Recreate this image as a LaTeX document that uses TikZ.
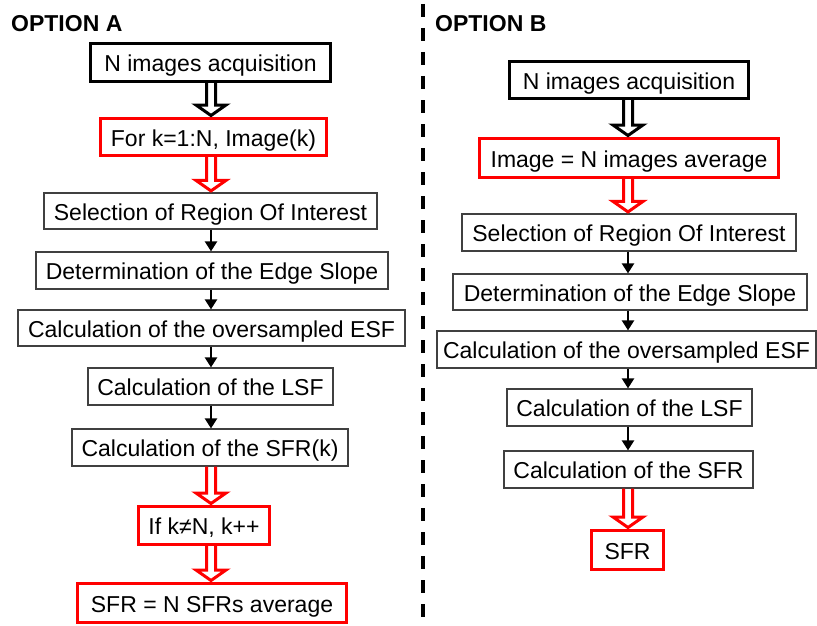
\documentclass[tikz,border=0pt]{standalone}
\usepackage{fontspec}
\setmainfont{Liberation Sans}
\usetikzlibrary{calc,arrows.meta}
\newcommand\HollowArr[4]{%
  \draw[#1, line width=3pt, line join=miter, miter limit=10]
    let \p1=(#2.south), \p2=(#3.north), \p3=(#4) in
    (\x3-4.5pt,\y1) -- (\x3-4.5pt,\y2+12pt) -- (\x3-15pt,\y2+12pt) -- (\x3,\y2+1.5pt)
    -- (\x3+15pt,\y2+12pt) -- (\x3+4.5pt,\y2+12pt) -- (\x3+4.5pt,\y1);}
\begin{document}
\begin{tikzpicture}[x=1pt,y=-1pt,
  every node/.style={font=\fontsize{23}{27}\selectfont, inner sep=0pt,
    text height=18.5pt, text depth=0pt, align=center},
  thinbox/.style={draw=black!75, line width=1.2pt},
  blackbox/.style={draw=black, line width=3pt},
  redbox/.style={draw=red, line width=3pt},
  smallarr/.style={line width=2.3pt, -{Triangle[width=12pt,length=10pt]}},
  title/.style={anchor=base west, font=\fontsize{23}{27}\selectfont\bfseries}]
\useasboundingbox (0,0) rectangle (817,626);

% column guides
\coordinate (colA) at (211,0);
\coordinate (colB) at (628,0);

% separator
\coordinate (dtop) at (423,4);
\coordinate (dbot) at (423,626);
\draw[line width=3.5pt, dash pattern=on 13pt off 11pt] (dtop) -- (dbot);

% titles
\node[title] (optA) at (11,32) {OPTION A};
\node[title] (optB) at (435,32) {OPTION B};

% ---------- Option A ----------
\node[blackbox, minimum width=240pt, minimum height=38pt] (A1) at (210.5,62.5) {N images acquisition};
\node[redbox, minimum width=226pt, minimum height=37pt] (A2) at (213.5,137) {For k=1:N, Image(k)};
\node[thinbox, minimum width=333pt, minimum height=36pt] (A3) at (210.5,211) {Selection of Region Of Interest};
\node[thinbox, minimum width=352pt, minimum height=37pt] (A4) at (212,270.5) {Determination of the Edge Slope};
\node[thinbox, minimum width=387pt, minimum height=36pt] (A5) at (211.5,328) {Calculation of the oversampled ESF};
\node[thinbox, minimum width=245pt, minimum height=37pt] (A6) at (210.5,386.5) {Calculation of the LSF};
\node[thinbox, minimum width=276pt, minimum height=37pt] (A7) at (210,447.5) {Calculation of the SFR(k)};
\node[redbox, minimum width=131pt, minimum height=38pt] (A8) at (204,525.5) {If k≠N, k++};
\node[redbox, minimum width=269pt, minimum height=39pt] (A9) at (212,603) {SFR = N SFRs average};

\HollowArr{black}{A1}{A2}{colA}
\HollowArr{red}{A2}{A3}{colA}
\draw[smallarr] (A3.south -| colA) -- (A4.north -| colA);
\draw[smallarr] (A4.south -| colA) -- (A5.north -| colA);
\draw[smallarr] (A5.south -| colA) -- (A6.north -| colA);
\draw[smallarr] (A6.south -| colA) -- (A7.north -| colA);
\HollowArr{red}{A7}{A8}{colA}
\HollowArr{red}{A8}{A9}{colA}

% ---------- Option B ----------
\node[blackbox, minimum width=239pt, minimum height=37pt] (B1) at (629,80) {N images acquisition};
\node[redbox, minimum width=299pt, minimum height=39pt] (B2) at (629,158) {Image = N images average};
\node[thinbox, minimum width=334pt, minimum height=37pt] (B3) at (629,232.5) {Selection of Region Of Interest};
\node[thinbox, minimum width=354pt, minimum height=36pt] (B4) at (630,292) {Determination of the Edge Slope};
\node[thinbox, minimum width=379pt, minimum height=37pt] (B5) at (626.5,349.5) {Calculation of the oversampled ESF};
\node[thinbox, minimum width=245pt, minimum height=37pt] (B6) at (629.5,407.5) {Calculation of the LSF};
\node[thinbox, minimum width=249pt, minimum height=37pt] (B7) at (628.5,469.5) {Calculation of the SFR};
\node[redbox, minimum width=72pt, minimum height=39pt] (B8) at (627.5,550) {SFR};

\HollowArr{black}{B1}{B2}{colB}
\HollowArr{red}{B2}{B3}{colB}
\draw[smallarr] (B3.south -| colB) -- (B4.north -| colB);
\draw[smallarr] (B4.south -| colB) -- (B5.north -| colB);
\draw[smallarr] (B5.south -| colB) -- (B6.north -| colB);
\draw[smallarr] (B6.south -| colB) -- (B7.north -| colB);
\HollowArr{red}{B7}{B8}{colB}
\end{tikzpicture}
\end{document}
